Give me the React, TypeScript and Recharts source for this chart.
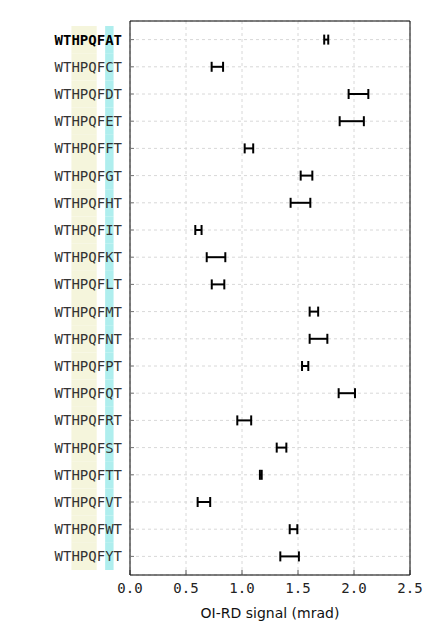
import { ScatterChart, Scatter, XAxis, YAxis, CartesianGrid, ErrorBar } from "recharts";

const peptides = [
  "WTHPQFAT", "WTHPQFCT", "WTHPQFDT", "WTHPQFET", "WTHPQFFT",
  "WTHPQFGT", "WTHPQFHT", "WTHPQFIT", "WTHPQFKT", "WTHPQFLT",
  "WTHPQFMT", "WTHPQFNT", "WTHPQFPT", "WTHPQFQT", "WTHPQFRT",
  "WTHPQFST", "WTHPQFTT", "WTHPQFVT", "WTHPQFWT", "WTHPQFYT",
];
const signal = [
  1.752, 0.78, 2.04, 1.98, 1.062,
  1.576, 1.522, 0.611, 0.768, 0.786,
  1.642, 1.683, 1.564, 1.936, 1.02,
  1.353, 1.168, 0.66, 1.46, 1.425,
];
const signalErr = [
  0.018, 0.051, 0.088, 0.108, 0.038,
  0.052, 0.088, 0.028, 0.083, 0.056,
  0.038, 0.079, 0.028, 0.073, 0.062,
  0.043, 0.008, 0.056, 0.034, 0.083,
];
const xTicks = [0, 0.5, 1, 1.5, 2, 2.5];
const referencePeptide = "WTHPQFAT";

const data = peptides.map((name, i) => ({ name, mean: signal[i], err: signalErr[i] }));

const MONO = "'DejaVu Sans Mono', monospace";
const CHAR_W = 14 * 0.602;
const ROW_H = 27.2;

function PeptideTick(props: any) {
  const { x, y, payload } = props;
  const name = payload.value as string;
  const bold = name === referencePeptide;
  return (
    <g>
      <rect x={x - 6 * CHAR_W} y={y - ROW_H / 2} width={3 * CHAR_W} height={ROW_H} fill="#f5f5dc" />
      <rect x={x - 2 * CHAR_W} y={y - ROW_H / 2} width={CHAR_W} height={ROW_H} fill="#afeeee" />
      <text
        x={x}
        y={y}
        dy="0.36em"
        textAnchor="end"
        fontFamily={MONO}
        fontSize={14}
        fontWeight={bold ? "bold" : "normal"}
        fill={bold ? "#000" : "#333"}
      >
        {name}
      </text>
    </g>
  );
}

const noPoint = () => <g />;

export default function App() {
  return (
    <ScatterChart
      width={424}
      height={625}
      data={data}
      margin={{ top: 12, right: 21, bottom: 0, left: 0 }}
    >
      <CartesianGrid xAxisId="b" yAxisId="l" stroke="#d8d8d8" strokeDasharray="3 3" />
      <XAxis
        xAxisId="b"
        dataKey="mean"
        type="number"
        domain={[0, 2.5]}
        ticks={xTicks}
        allowDataOverflow
        height={58}
        tickSize={-5}
        tickMargin={13}
        tickFormatter={(v: number) => v.toFixed(1)}
        axisLine={{ stroke: "#000" }}
        tickLine={{ stroke: "#555" }}
        tick={{ fontFamily: MONO, fontSize: 14, fill: "#222" }}
        label={{
          value: "OI-RD signal (mrad)",
          position: "insideBottom",
          offset: 15,
          fill: "#111",
          fontSize: 14,
          fontFamily: "'DejaVu Sans', sans-serif",
        }}
      />
      <XAxis
        xAxisId="t"
        orientation="top"
        type="number"
        dataKey="mean"
        domain={[0, 2.5]}
        ticks={xTicks}
        allowDataOverflow
        height={1}
        tickSize={-5}
        tick={false}
        axisLine={{ stroke: "#000" }}
        tickLine={{ stroke: "#555" }}
      />
      <YAxis
        yAxisId="l"
        dataKey="name"
        type="category"
        scale="band"
        reversed
        width={122}
        padding={{ top: 5, bottom: 5 }}
        tickSize={-4}
        tickMargin={12}
        interval={0}
        axisLine={{ stroke: "#000" }}
        tickLine={{ stroke: "#777" }}
        tick={PeptideTick}
      />
      <YAxis
        yAxisId="r"
        orientation="right"
        dataKey="name"
        type="category"
        scale="band"
        reversed
        width={1}
        padding={{ top: 5, bottom: 5 }}
        tickSize={-4}
        interval={0}
        tick={false}
        axisLine={{ stroke: "#000" }}
        tickLine={{ stroke: "#777" }}
      />
      <Scatter xAxisId="b" yAxisId="l" dataKey="mean" shape={noPoint} isAnimationActive={false}>
        <ErrorBar dataKey="err" direction="x" width={5} strokeWidth={2} stroke="#000" isAnimationActive={false} />
      </Scatter>
    </ScatterChart>
  );
}
